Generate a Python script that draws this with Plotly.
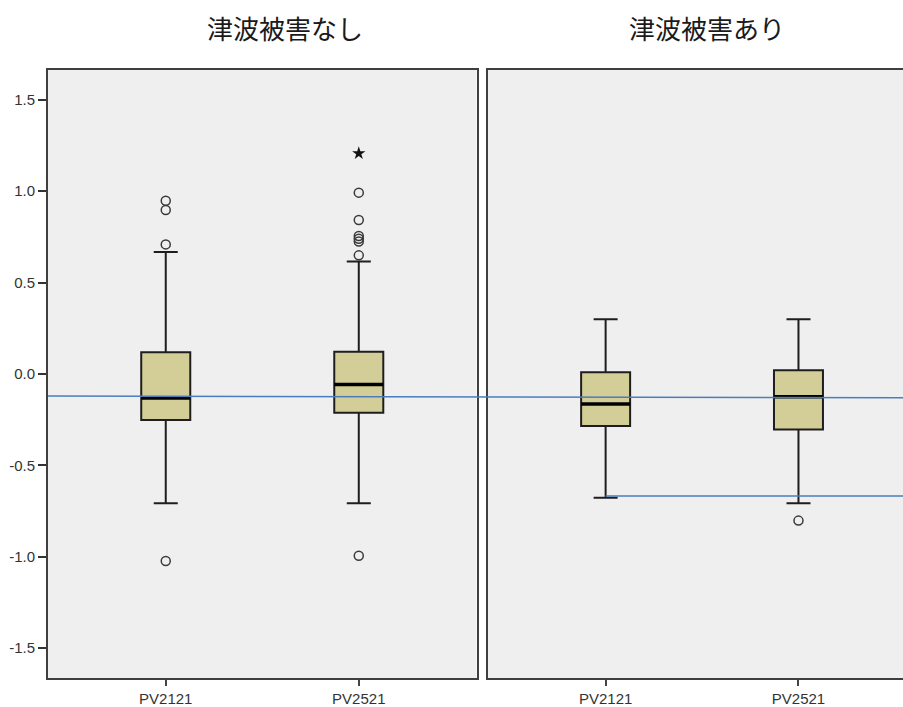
import plotly.graph_objects as go

# Box-plot summaries for two plausible-value variables, split by tsunami damage
categories = ["PV2121", "PV2521"]
panel_titles = ["津波被害なし", "津波被害あり"]

# No tsunami damage
q1_none = [-0.252, -0.212]
median_none = [-0.131, -0.058]
q3_none = [0.119, 0.122]
lower_none = [-0.707, -0.707]
upper_none = [0.667, 0.616]
outliers_none = [
    [0.948, 0.897, 0.709, -1.023],
    [0.992, 0.842, 0.755, 0.740, 0.725, 0.649, -0.994],
]
extremes_none = [[], [1.207]]

# Tsunami damage
q1_hit = [-0.284, -0.303]
median_hit = [-0.164, -0.124]
q3_hit = [0.009, 0.020]
lower_hit = [-0.677, -0.707]
upper_hit = [0.299, 0.299]
outliers_hit = [[], [-0.802]]
extremes_hit = [[], []]

# Reference lines (blue)
ref_line_start = -0.120
ref_line_end = -0.130
ref_line_hit = -0.667

y_ticks = [-1.5, -1.0, -0.5, 0.0, 0.5, 1.0, 1.5]

positions = list(range(len(categories)))
BOX_W = 0.254
FILL = "rgb(211,206,151)"
EDGE = "#1e1e1e"
FRAME = "#3f3f3f"
BLUE = "#4a7dbd"

fig = go.Figure()


def add_panel(xa, ya, q1, med, q3, lo, hi, outl, ext):
    fig.add_trace(go.Box(
        x=positions, q1=q1, median=med, q3=q3,
        lowerfence=lo, upperfence=hi,
        width=BOX_W, whiskerwidth=0.49,
        fillcolor=FILL, line=dict(color=EDGE, width=2),
        boxpoints=False, showlegend=False,
        xaxis=xa, yaxis=ya, hoverinfo="skip",
    ))
    # heavier median bar
    mx, my = [], []
    for p, m in zip(positions, med):
        mx += [p - BOX_W / 2, p + BOX_W / 2, None]
        my += [m, m, None]
    fig.add_trace(go.Scatter(
        x=mx, y=my, mode="lines", line=dict(color="black", width=3.5),
        showlegend=False, xaxis=xa, yaxis=ya, hoverinfo="skip",
    ))
    ox, oy = [], []
    for p, vals in zip(positions, outl):
        ox += [p] * len(vals)
        oy += vals
    if ox:
        fig.add_trace(go.Scatter(
            x=ox, y=oy, mode="markers",
            marker=dict(symbol="circle-open", size=9, color="#3a3a3a",
                        line=dict(width=1.5, color="#3a3a3a")),
            showlegend=False, xaxis=xa, yaxis=ya, hoverinfo="skip",
        ))
    ex, ey = [], []
    for p, vals in zip(positions, ext):
        ex += [p] * len(vals)
        ey += vals
    if ex:
        fig.add_trace(go.Scatter(
            x=ex, y=ey, mode="markers",
            marker=dict(symbol="star", size=10, color="#111"),
            showlegend=False, xaxis=xa, yaxis=ya, hoverinfo="skip",
        ))


add_panel("x", "y", q1_none, median_none, q3_none, lower_none, upper_none,
          outliers_none, extremes_none)
add_panel("x2", "y2", q1_hit, median_hit, q3_hit, lower_hit, upper_hit,
          outliers_hit, extremes_hit)

X_RANGE_L = [-0.61, 1.61]
X_RANGE_R = [-0.61, 1.542]
Y_RANGE = [-1.663, 1.663]

tick_font = dict(family="Liberation Sans, Arial, sans-serif", size=15, color="#333")

xaxis_common = dict(
    tickmode="array", tickvals=positions, ticktext=categories,
    ticks="outside", ticklen=6, tickwidth=1.5, tickcolor="#444",
    showline=True, linecolor=FRAME, linewidth=2, mirror=True,
    showgrid=False, zeroline=False, tickfont=tick_font, fixedrange=True,
)

fig.update_layout(
    width=903, height=707, autosize=False,
    margin=dict(l=48, r=0, t=70, b=29),
    paper_bgcolor="white", plot_bgcolor="#efefef",
    xaxis=dict(domain=[0, 0.5012], range=X_RANGE_L, anchor="y", **xaxis_common),
    xaxis2=dict(domain=[0.5146, 1], range=X_RANGE_R, anchor="y2", **xaxis_common),
    yaxis=dict(
        range=Y_RANGE, tickmode="array", tickvals=y_ticks,
        ticktext=[f"{v:.1f}" for v in y_ticks],
        ticks="outside", ticklen=8, tickwidth=1.5, tickcolor="#333",
        showline=True, linecolor=FRAME, linewidth=2, mirror=True,
        showgrid=False, zeroline=False, tickfont=tick_font, anchor="x",
    ),
    yaxis2=dict(
        range=Y_RANGE, showticklabels=False, ticks="",
        showline=True, linecolor=FRAME, linewidth=2, mirror=False,
        showgrid=False, zeroline=False, anchor="x2",
    ),
    shapes=[
        dict(type="line", xref="paper", yref="y", x0=0, x1=1,
             y0=ref_line_start, y1=ref_line_end,
             line=dict(color=BLUE, width=1.5), layer="above"),
        dict(type="line", xref="x2", yref="y2", x0=positions[0], x1=X_RANGE_R[1],
             y0=ref_line_hit, y1=ref_line_hit,
             line=dict(color=BLUE, width=1.5), layer="above"),
    ],
    annotations=[
        dict(text=panel_titles[0], xref="paper", yref="paper", x=0.277, y=1.0707,
             xanchor="center", yanchor="middle", showarrow=False,
             font=dict(family="Noto Sans CJK JP", size=26, color="#1a1a1a")),
        dict(text=panel_titles[1], xref="paper", yref="paper", x=0.771, y=1.0707,
             xanchor="center", yanchor="middle", showarrow=False,
             font=dict(family="Noto Sans CJK JP", size=26, color="#1a1a1a")),
    ],
)

fig.write_html("out.html")
